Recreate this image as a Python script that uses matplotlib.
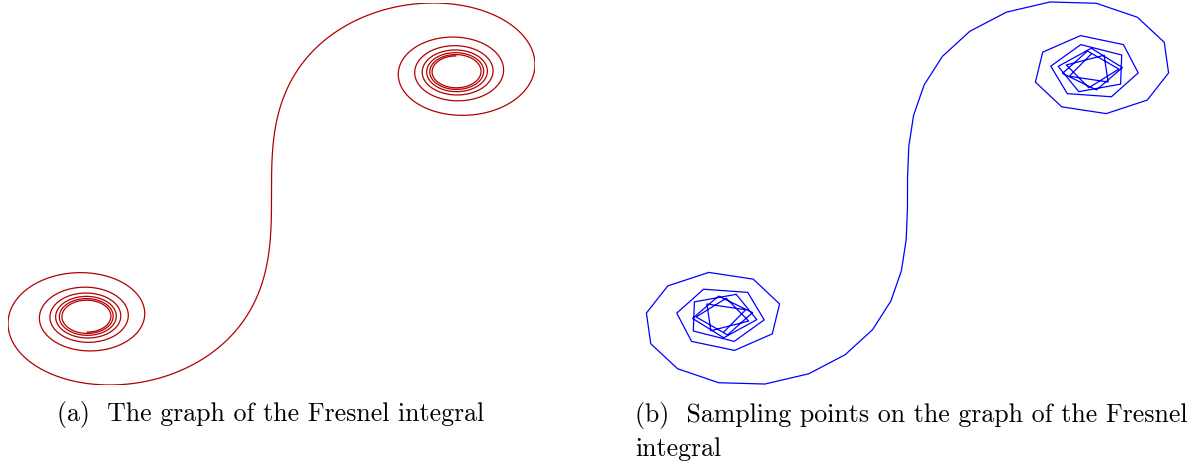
import numpy as np
import matplotlib
matplotlib.use("Agg")
import matplotlib.pyplot as plt

# parameter range of the curve; panel b uses n_samples evenly spaced points on it
t_range = (-5.0, 5.0)
n_samples = 80
captions = ["(a)  The graph of the Fresnel integral",
            "(b)  Sampling points on the graph of the Fresnel\nintegral"]
colors = ["#b20000", "#0000ff"]


def fresnel(t_values, n=4001):
    # C(t), S(t) with the pi/2 convention, integrated numerically from 0
    c, s = [], []
    for tv in t_values:
        u = np.linspace(0, tv, n)
        c.append(np.trapezoid(np.cos(np.pi * u ** 2 / 2), u))
        s.append(np.trapezoid(np.sin(np.pi * u ** 2 / 2), u))
    return np.array(c), np.array(s)


t = np.linspace(t_range[0], t_range[1], 3001)
C, S = fresnel(t, 1001)
ts = np.linspace(t_range[0], t_range[1], n_samples)
Cs, Ss = fresnel(ts)

fig = plt.figure(figsize=(12, 4.68), dpi=100)
W, H = 1200, 468


def add_axes(x0, x1, y0, y1):
    # pixel box (y measured from top) -> figure fraction
    return fig.add_axes([x0 / W, 1 - y1 / H, (x1 - x0) / W, (y1 - y0) / H])


ax1 = add_axes(8, 535, 3, 385)
ax1.plot(S, C, color=colors[0], lw=0.9)
ax2 = add_axes(645, 1170, 1, 385)
ax2.plot(Ss, Cs, color=colors[1], lw=0.9)

for ax in (ax1, ax2):
    ax.set_xlim(S.min(), S.max())
    ax.set_ylim(C.min(), C.max())
    ax.axis("off")

fig.text(57 / W, 1 - 414 / H, captions[0], fontsize=18.6, family="cmr10", va="center", ha="left")
fig.text(635 / W, 1 - 402 / H, captions[1], fontsize=18.6, family="cmr10", va="top", ha="left",
         linespacing=1.45)

fig.savefig("out.png", dpi=100)
